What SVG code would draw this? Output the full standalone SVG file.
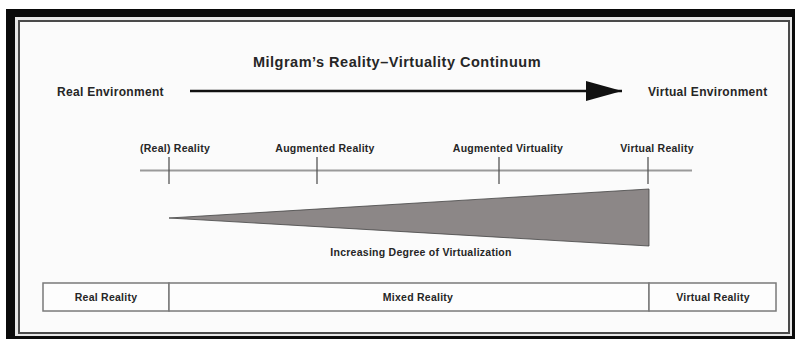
<svg xmlns="http://www.w3.org/2000/svg" width="797" height="340" viewBox="0 0 797 340">
  <defs>
    <style>
      .t { font-family: "Liberation Sans", Arial, sans-serif; font-weight: bold; fill: #262626; }
      .title { font-size: 14.5px; letter-spacing: 0.5px; }
      .env { font-size: 12px; letter-spacing: 0.3px; }
      .lbl { font-size: 10.5px; letter-spacing: 0.25px; }
      .axis { stroke: #9a9a9a; stroke-width: 2; fill: none; }
      .tick { stroke: #555; stroke-width: 1.3; fill: none; }
      .box { stroke: #7a7a7a; stroke-width: 1.5; fill: #fdfdfd; }
    </style>
    <marker id="arrow" markerUnits="userSpaceOnUse" markerWidth="40" markerHeight="22" refX="36" refY="10" orient="auto">
      <path d="M0,0 L36,10 L0,20 Z" fill="#111"/>
    </marker>
  </defs>

  <rect x="0" y="0" width="797" height="340" fill="#ffffff"/>
  <g id="frame">
    <rect x="6" y="9" width="789" height="330" fill="#0a0a0a"/>
    <rect x="15" y="17" width="777" height="319" fill="#e6e6e6"/>
    <rect x="19" y="21" width="770" height="312" fill="#fbfbfb" stroke="#4a4a4a" stroke-width="2"/>
  </g>

  <g id="title">
    <text class="t title" x="397" y="67" text-anchor="middle">Milgram’s Reality–Virtuality Continuum</text>
  </g>

  <g id="real-environment">
    <text class="t env" x="57" y="96">Real Environment</text>
  </g>
  <g id="virtual-environment">
    <text class="t env" x="648" y="96">Virtual Environment</text>
  </g>

  <g id="connectors">
    <line x1="190" y1="91" x2="622" y2="91" stroke="#111" stroke-width="2.5" marker-end="url(#arrow)"/>
  </g>

  <g id="scale">
    <line class="axis" x1="140" y1="170.5" x2="692" y2="170.5"/>
    <line class="tick" x1="169" y1="157" x2="169" y2="184"/>
    <line class="tick" x1="317" y1="157" x2="317" y2="184"/>
    <line class="tick" x1="499" y1="157" x2="499" y2="184"/>
    <line class="tick" x1="648" y1="157" x2="648" y2="184"/>
  </g>

  <g id="real-reality-label"><text class="t lbl" x="175" y="152" text-anchor="middle">(Real) Reality</text></g>
  <g id="augmented-reality-label"><text class="t lbl" x="325" y="152" text-anchor="middle">Augmented Reality</text></g>
  <g id="augmented-virtuality-label"><text class="t lbl" x="508" y="152" text-anchor="middle">Augmented Virtuality</text></g>
  <g id="virtual-reality-label"><text class="t lbl" x="657" y="152" text-anchor="middle">Virtual Reality</text></g>

  <g id="wedge">
    <polygon points="169,218 649,189 649,246" fill="#8c8787" stroke="#444" stroke-width="0.8"/>
    <text class="t lbl" x="421" y="256" text-anchor="middle">Increasing Degree of Virtualization</text>
  </g>

  <g id="bar">
    <g id="bar-real">
      <rect class="box" x="43" y="283" width="126" height="28"/>
      <text class="t lbl" x="106" y="301" text-anchor="middle">Real Reality</text>
    </g>
    <g id="bar-mixed">
      <rect class="box" x="169" y="283" width="480" height="28"/>
      <text class="t lbl" x="418" y="301" text-anchor="middle">Mixed Reality</text>
    </g>
    <g id="bar-virtual">
      <rect class="box" x="649" y="283" width="127" height="28"/>
      <text class="t lbl" x="713" y="301" text-anchor="middle">Virtual Reality</text>
    </g>
  </g>
</svg>
